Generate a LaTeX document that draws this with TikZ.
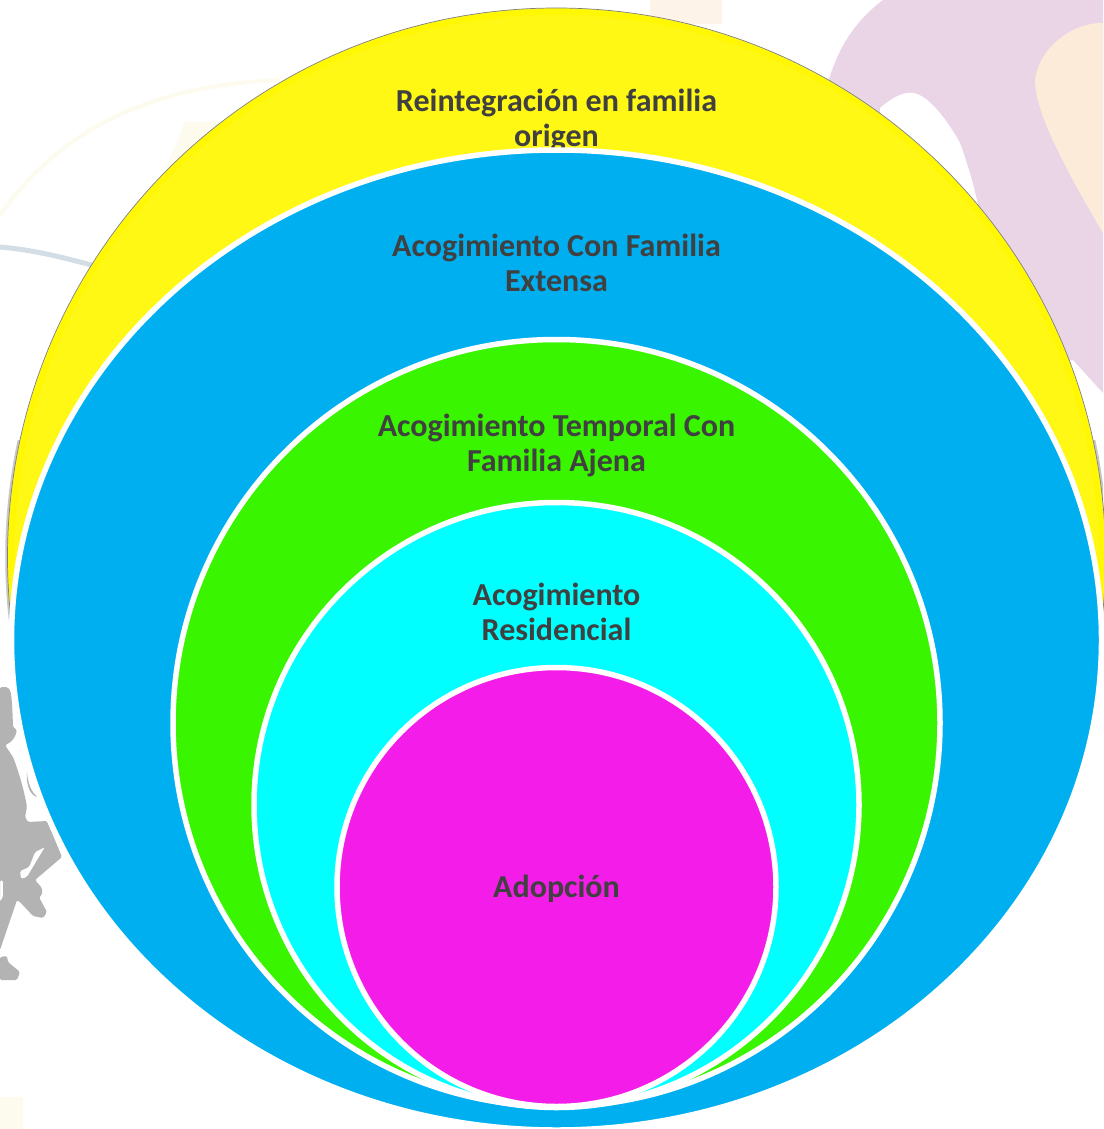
\documentclass[tikz,border=0pt]{standalone}
\usepackage{fontspec}
\usetikzlibrary{shapes.geometric}
\setmainfont{Carlito}
\definecolor{yel}{HTML}{FFF714}
\definecolor{yeledge}{HTML}{FFF800}
\definecolor{blu}{HTML}{00AFF0}
\definecolor{grn}{HTML}{39F500}
\definecolor{cya}{HTML}{00FFFF}
\definecolor{mag}{HTML}{F41CE8}
\definecolor{txt}{HTML}{404040}
\definecolor{pur}{HTML}{E9D5E6}
\definecolor{pea}{HTML}{FCEBD8}
\definecolor{sil}{HTML}{B3B3B3}
\definecolor{arcb}{HTML}{D3DDE6}
\definecolor{arcy}{HTML}{FCFBEE}
\tikzset{
  ring/.style={circle,draw=white,line width=5.5pt,inner sep=0pt,outer sep=0pt},
  lab/.style={text=txt,font=\fontsize{32}{35}\selectfont\bfseries,align=center,inner sep=0pt},
}
\begin{document}
\begin{tikzpicture}[x=1pt,y=-1pt]
\useasboundingbox (0,0) rectangle (1103,1129);
\fill[white] (0,0) rectangle (1103,1129);
% background
\fill[pur] (883,0) .. controls (850,25) and (835,55) .. (826,90) -- (800,200) -- (1060,360) -- (1073,360) -- (1103,393) -- (1103,0) -- cycle;
\fill[white] (880,108) .. controls (895,95) and (905,92) .. (913,93) .. controls (930,95) and (950,125) .. (960,143) .. controls (968,165) and (975,190) .. (978,205) -- (880,205) -- cycle;
\fill[pea] (1103,23) .. controls (1075,22) and (1040,45) .. (1035,80) .. controls (1035,110) and (1060,160) .. (1103,233) -- cycle;
\fill[pea!60!white] (650,0) rectangle (722,24);
\draw[arcy,line width=4pt] (0,215) .. controls (60,130) and (150,85) .. (280,80);
\fill[arcy] (165,170) -- (185,122) -- (250,122) -- (200,170) -- cycle;
\fill[arcy] (0,1097) -- (23,1097) -- (23,1129) -- (0,1129) -- cycle;
\draw[arcb,line width=5pt] (0,247) .. controls (35,250) and (65,258) .. (95,266);
% silhouette
\fill[sil,even odd rule,rounded corners=1.5pt] (0,687) -- (7,687) .. controls (11,690) and (12,695) .. (13,727) -- (17,730) .. controls (15,738) and (12,742) .. (5,745) -- (13,757) .. controls (20,775) and (25,795) .. (27,807) -- (25,817) -- (28,822) -- (47,821) -- (62,857) -- (35,880) -- (42,888) -- (42,895) -- (39,897) -- (47,912) -- (43,918) -- (33,916) -- (20,902) -- (17,900) -- (0,950) -- cycle
 (45,847) -- (35,852) -- (29,867) -- (20,871) -- (21,879) -- (27,877) -- cycle
 (0,880) -- (3,880) -- (3,897) -- (0,902) -- cycle;
\fill[sil,rounded corners=1.5pt] (0,957) -- (7,956) -- (8,962) -- (20,972) -- (17,980) -- (0,980) -- cycle;
\fill[sil] (27,772) .. controls (28,785) and (32,792) .. (37,797) .. controls (30,795) and (26,785) .. (27,772) -- cycle;
% soft edge on the lower part of the yellow disc
\begin{scope}
\clip (0,440) rectangle (1103,660);
\draw[black!22,line width=3.5pt] (556.5,557) circle[radius=549.5];
\end{scope}
% circles
\node[circle,draw=black!50,line width=.7pt,fill=yel,minimum size=1098pt,inner sep=0pt] (c1) at (556.5,557) {};
\draw[yeledge,line width=5pt] (c1.center) circle[radius=545];
\node[lab] (t1) at (556.5,120) {Reintegración en familia\\origen};
\node[ring,shape=ellipse,fill=blu,minimum width=1090pt,minimum height=980pt] (c2) at (556.5,640) {};
\node[lab] (t2) at (556.5,263) {Acogimiento Con Familia\\Extensa};
\node[ring,fill=grn,minimum size=767pt] (c3) at (556.5,723) {};
\node[lab] (t3) at (556.5,445.5) {Acogimiento Temporal Con\\Familia Ajena};
\node[ring,fill=cya,minimum size=605pt] (c4) at (556.5,805) {};
\node[lab] (t4) at (556.5,612) {Acogimiento\\Residencial};
\node[ring,fill=mag,minimum size=439pt] (c5) at (556.5,887) {};
\node[lab] (t5) at (556.5,889) {Adopción};
\end{tikzpicture}
\end{document}
